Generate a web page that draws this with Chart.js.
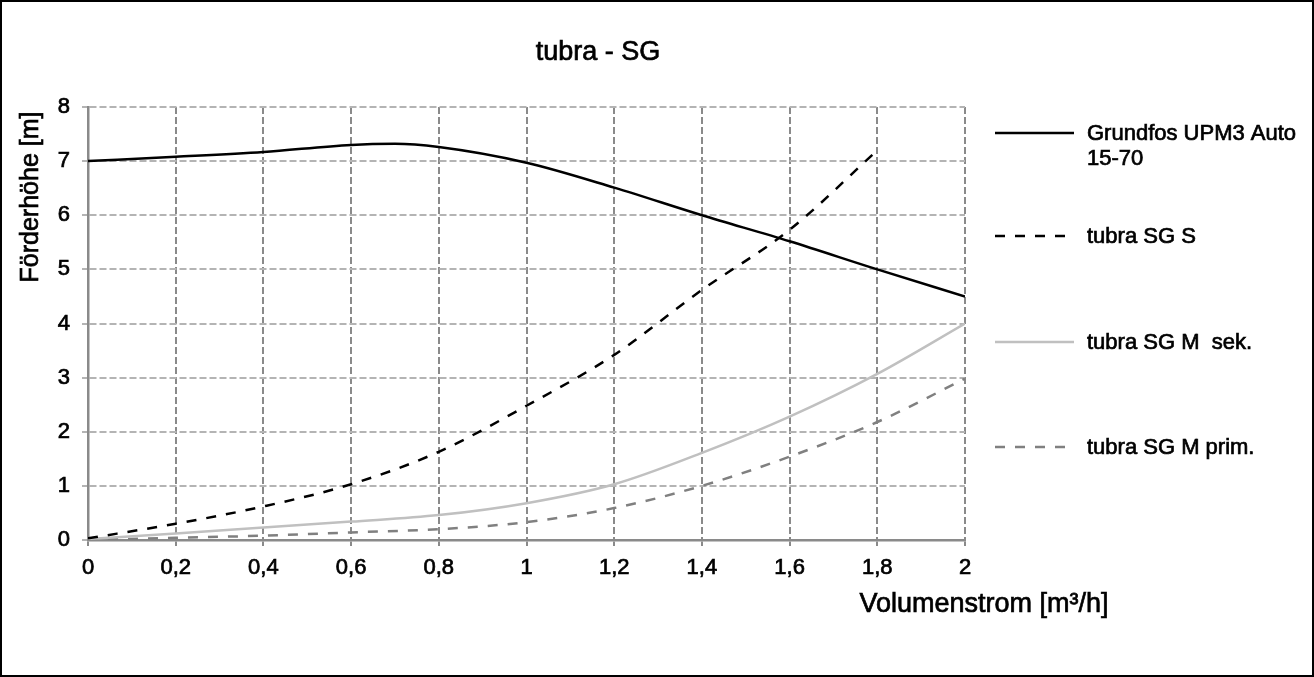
<!DOCTYPE html>
<html>
<head>
<meta charset="utf-8">
<script src="https://cdn.jsdelivr.net/npm/chart.js@4/dist/chart.umd.min.js"></script>
<style>
    body { margin: 0; background: #fff; }
    #chart-container { width: 1314px; height: 677px; }
</style>
</head>
<body>
<div id="chart-container"><canvas id="myChart" width="1314" height="677"></canvas></div>
<script>
// values
var chartTitle = 'tubra - SG';
var xTitle = 'Volumenstrom [m³/h]';
var yTitle = 'Förderhöhe [m]';

var seriesNames = ['Grundfos UPM3 Auto 15-70', 'tubra SG S', 'tubra SG M  sek.', 'tubra SG M prim.'];

var pumpFlow = [0, 0.2, 0.4, 0.6, 0.7, 0.8, 1.0, 1.2, 1.4, 1.6, 1.8, 2.0];
var pumpHead = [7.0, 7.08, 7.17, 7.30, 7.32, 7.26, 6.97, 6.51, 6.0, 5.52, 5.0, 4.5];

var sFlow = [0, 0.2, 0.4, 0.6, 0.8, 1.0, 1.2, 1.4, 1.6, 1.8];
var sHead = [0.03, 0.3, 0.62, 1.03, 1.63, 2.48, 3.42, 4.62, 5.73, 7.2];

var mFlow = [0, 0.2, 0.4, 0.6, 0.8, 1.0, 1.2, 1.4, 1.6, 1.8, 2.0];
var mSekHead = [0.02, 0.12, 0.23, 0.34, 0.46, 0.68, 1.03, 1.61, 2.28, 3.07, 4.0];
var mPrimHead = [0.0, 0.04, 0.08, 0.14, 0.2, 0.33, 0.59, 1.0, 1.54, 2.18, 2.98];

var xTickLabels = ['0', '0,2', '0,4', '0,6', '0,8', '1', '1,2', '1,4', '1,6', '1,8', '2'];
var yTickLabels = ['0', '1', '2', '3', '4', '5', '6', '7', '8'];

var FONT = "'Liberation Sans', Arial, sans-serif";
var GRID_DARK = '#8a8a8a';
var GRID_LIGHT = '#b4b4b4';
var TEXT_STROKE = 0.7; // the picture's text is a bit heavier than regular

function points(xs, ys) {
    var out = [];
    for (var i = 0; i < xs.length; i++) {
        out.push({ x: xs[i], y: ys[i] });
    }
    return out;
}

function heavyText(ctx, text, x, y) {
    ctx.lineWidth = TEXT_STROKE;
    ctx.strokeStyle = '#000';
    ctx.strokeText(text, x, y);
    ctx.fillText(text, x, y);
}

// legend entries: line y position and text lines
var legendRows = [
    { y: 133, lines: ['Grundfos UPM3 Auto', '15-70'] },
    { y: 236, lines: ['tubra SG S'] },
    { y: 342, lines: ['tubra SG M  sek.'] },
    { y: 447, lines: ['tubra SG M prim.'] }
];

var extrasPlugin = {
    id: 'extras',
    afterDraw: function (chart) {
        var ctx = chart.ctx;
        ctx.save();
        // outer frame
        ctx.strokeStyle = '#000';
        ctx.lineWidth = 2;
        ctx.strokeRect(1, 1, 1312, 675);

        ctx.fillStyle = '#000';
        ctx.textBaseline = 'middle';

        // title
        ctx.font = '27px ' + FONT;
        ctx.textAlign = 'center';
        heavyText(ctx, chartTitle, 598, 53);

        // x axis title
        ctx.font = '27px ' + FONT;
        heavyText(ctx, xTitle, 984, 605);

        // y axis title
        ctx.save();
        ctx.translate(31, 197);
        ctx.rotate(-Math.PI / 2);
        ctx.font = '25px ' + FONT;
        heavyText(ctx, yTitle, 0, 0);
        ctx.restore();

        // legend
        ctx.font = '22px ' + FONT;
        ctx.textAlign = 'left';
        for (var i = 0; i < legendRows.length; i++) {
            var ds = chart.data.datasets[i];
            var row = legendRows[i];
            ctx.beginPath();
            ctx.strokeStyle = ds.borderColor;
            ctx.lineWidth = ds.borderWidth;
            ctx.setLineDash(ds.borderDash || []);
            ctx.moveTo(995, row.y);
            ctx.lineTo(1074, row.y);
            ctx.stroke();
            ctx.setLineDash([]);
            for (var j = 0; j < row.lines.length; j++) {
                heavyText(ctx, row.lines[j], 1087, row.y + 1 + j * 25);
            }
        }
        ctx.restore();
    }
};

var ctx = document.getElementById('myChart');
var myChart = new Chart(ctx, {
    type: 'line',
    data: {
        datasets: [{
            label: seriesNames[0],
            data: points(pumpFlow, pumpHead),
            borderColor: '#000000',
            borderWidth: 2.5,
            cubicInterpolationMode: 'monotone'
        }, {
            label: seriesNames[1],
            data: points(sFlow, sHead),
            borderColor: '#000000',
            borderWidth: 2.5,
            borderDash: [10, 10],
            cubicInterpolationMode: 'monotone'
        }, {
            label: seriesNames[2],
            data: points(mFlow, mSekHead),
            borderColor: '#c0c0c0',
            borderWidth: 2.5,
            cubicInterpolationMode: 'monotone'
        }, {
            label: seriesNames[3],
            data: points(mFlow, mPrimHead),
            borderColor: '#808080',
            borderWidth: 2.5,
            borderDash: [10, 10],
            cubicInterpolationMode: 'monotone'
        }]
    },
    options: {
        responsive: false,
        animation: false,
        elements: { point: { radius: 0 } },
        layout: {
            padding: { left: 0, top: 107, right: 349, bottom: 20 }
        },
        plugins: {
            legend: { display: false },
            title: { display: false },
            tooltip: { enabled: false }
        },
        scales: {
            x: {
                type: 'linear',
                min: 0,
                max: 2,
                ticks: {
                    stepSize: 0.2,
                    color: '#000',
                    font: { family: FONT, size: 22 },
                    textStrokeColor: '#000',
                    textStrokeWidth: TEXT_STROKE,
                    padding: 9,
                    maxRotation: 0,
                    autoSkip: false,
                    callback: function (value, index) { return xTickLabels[index]; }
                },
                grid: {
                    color: GRID_DARK,
                    lineWidth: 2,
                    tickLength: 6,
                    tickColor: GRID_DARK,
                    tickWidth: 2
                },
                border: { display: true, color: GRID_DARK, width: 2.5, dash: [7, 3] },
                afterFit: function (scale) { scale.height = 117; }
            },
            y: {
                min: 0,
                max: 8,
                ticks: {
                    stepSize: 1,
                    color: '#000',
                    font: { family: FONT, size: 22 },
                    textStrokeColor: '#000',
                    textStrokeWidth: TEXT_STROKE,
                    padding: 12,
                    callback: function (value, index) { return yTickLabels[index]; }
                },
                grid: {
                    color: GRID_LIGHT,
                    lineWidth: 2,
                    tickLength: 6,
                    tickColor: GRID_LIGHT,
                    tickWidth: 2
                },
                border: { display: true, color: GRID_DARK, width: 2.5, dash: [7, 3] },
                afterFit: function (scale) { scale.width = 88; }
            }
        }
    },
    plugins: [extrasPlugin]
});
</script>
</body>
</html>
